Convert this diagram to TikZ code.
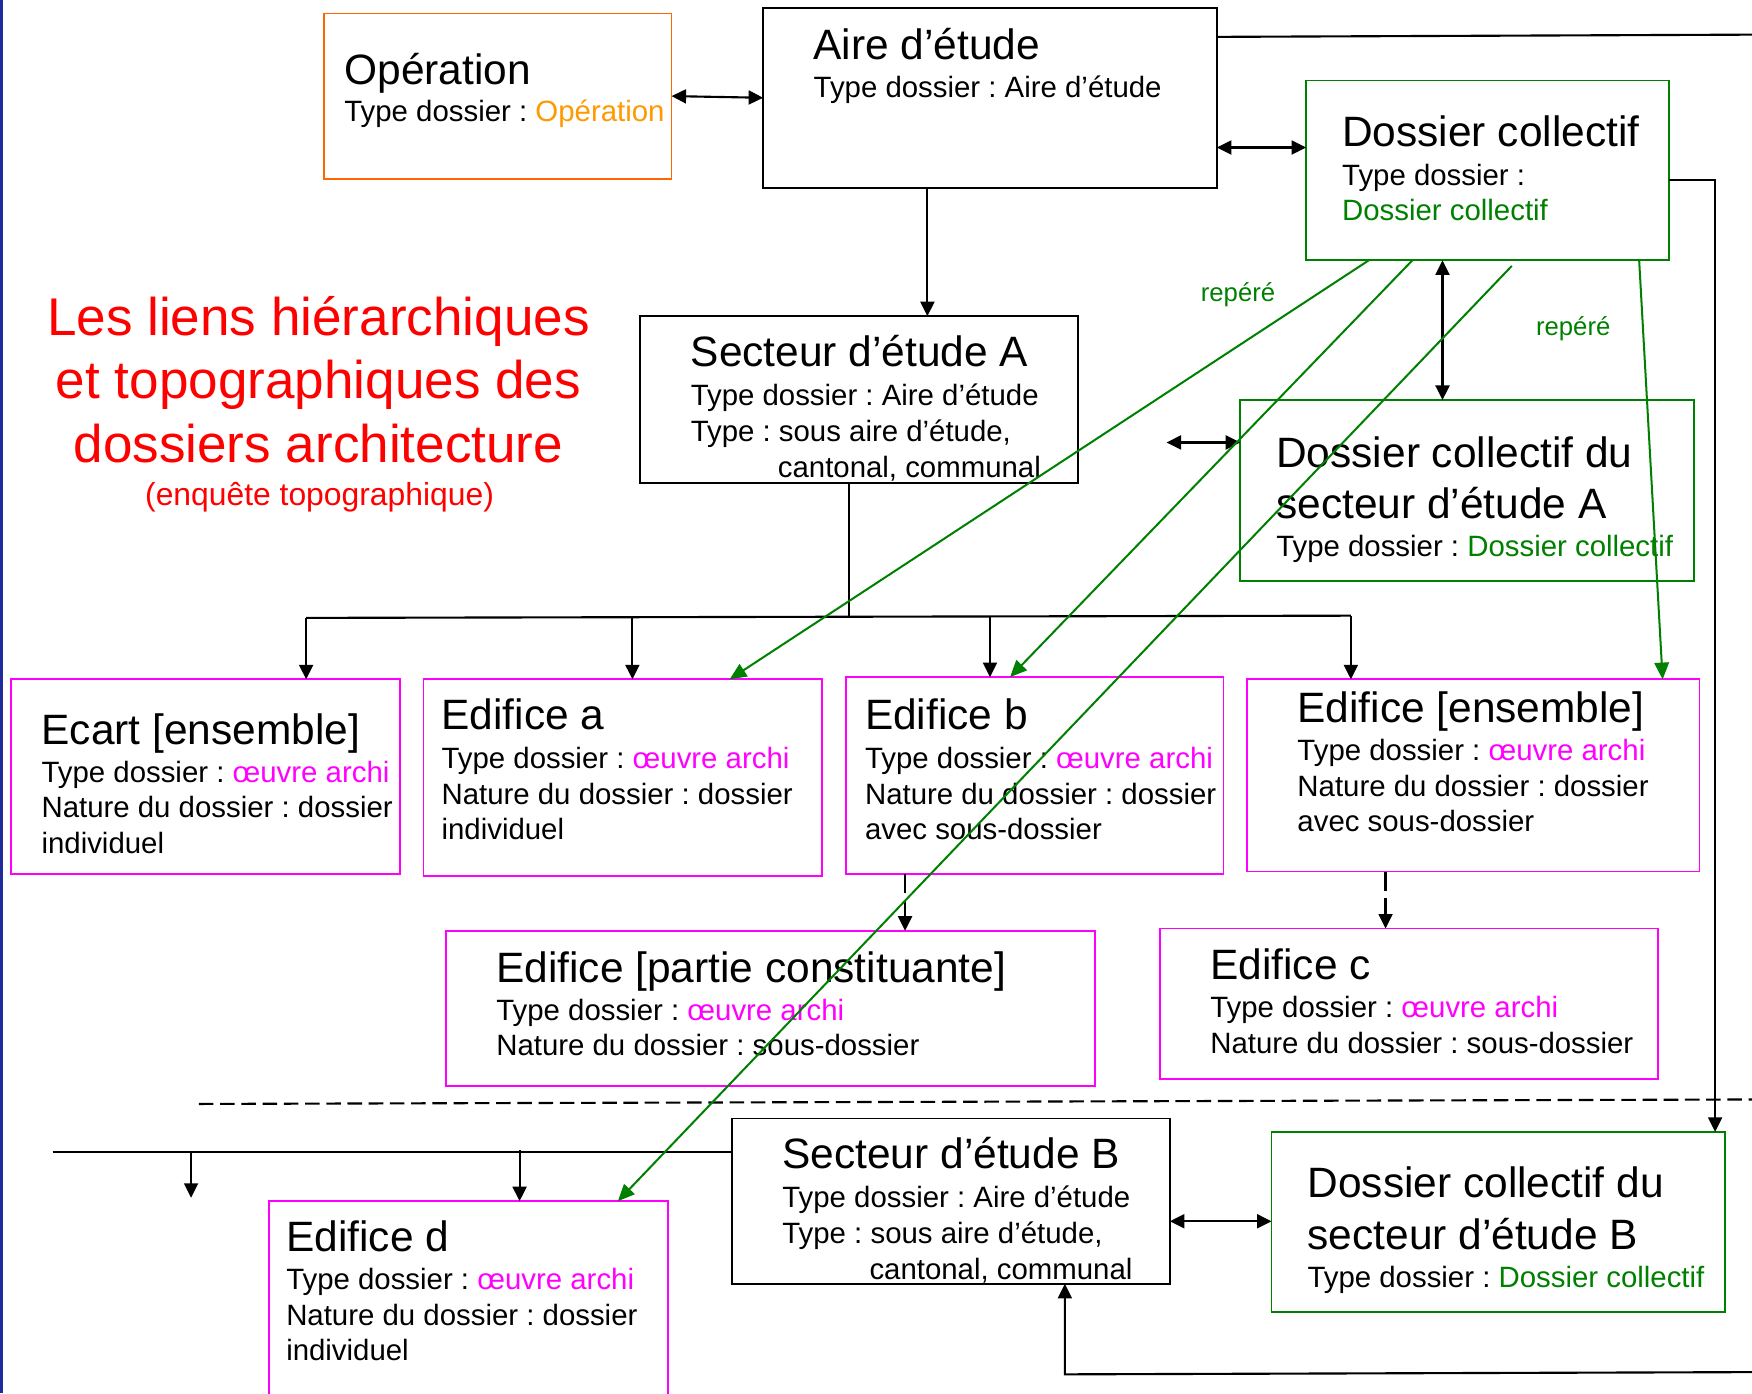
\documentclass[tikz,border=0pt]{standalone}
\usepackage{fontspec}
\setmainfont{Liberation Sans}
\usetikzlibrary{arrows.meta,calc}
\definecolor{orb}{HTML}{FF6600}
\definecolor{ort}{HTML}{FF9900}
\definecolor{grn}{HTML}{008000}
\definecolor{mag}{HTML}{FF00FF}
\definecolor{ttl}{HTML}{FF0000}
\definecolor{edgeblue}{HTML}{1F2A9C}
\frenchspacing
\begin{document}
\begin{tikzpicture}[x=1pt,y=1pt,
  bx/.style={draw, line width=1.6pt, inner sep=0pt, outer sep=0pt, anchor=north west},
  kbox/.style={bx, draw=black},
  obox/.style={bx, draw=orb},
  gbox/.style={bx, draw=grn},
  mbox/.style={bx, draw=mag},
  big/.style={font=\fontsize{38}{44}\selectfont, inner sep=0pt, anchor=base west},
  sm/.style={font=\fontsize{26.3}{32}\selectfont, inner sep=0pt, anchor=base west},
  ttlA/.style={font=\fontsize{47.5}{57}\selectfont, text=ttl, inner sep=0pt, anchor=base},
  ttlB/.style={font=\fontsize{28.5}{34}\selectfont, text=ttl, inner sep=0pt, anchor=base},
  rep/.style={font=\fontsize{23}{28}\selectfont, text=grn, inner sep=0pt, anchor=base},
  ln/.style={line width=1.9pt},
  tip/.tip={Triangle[length=13pt,width=12.5pt]},
  arr/.style={ln, -tip},
  dbl/.style={ln, tip-tip},
  garr/.style={draw=grn, line width=1.8pt, -{Triangle[length=15pt,width=13pt]}},
  dsh/.style={dash pattern=on 17pt off 7pt},
]
\useasboundingbox (0,0) rectangle (1568,-1247);
\fill[edgeblue] (0,0) rectangle (3,-1247);

% ---------- boxes ----------
\node[obox, minimum width=311pt, minimum height=148pt] (op) at (290,-12) {};
\node[kbox, minimum width=406pt, minimum height=161pt] (aire) at (683,-7) {};
\node[gbox, minimum width=325pt, minimum height=161pt] (dc) at (1169,-72) {};
\node[kbox, minimum width=392pt, minimum height=149pt] (secA) at (573,-283) {};
\node[gbox, minimum width=406pt, minimum height=162pt] (dcA) at (1110,-358) {};
\node[mbox, minimum width=348pt, minimum height=174pt] (ecart) at (10,-608) {};
\node[mbox, minimum width=357pt, minimum height=176pt] (edA) at (379,-608) {};
\node[mbox, minimum width=338pt, minimum height=176pt] (edB) at (757,-606) {};
\node[mbox, minimum width=405pt, minimum height=172pt] (edE) at (1116,-608) {};
\node[mbox, minimum width=581pt, minimum height=139pt] (part) at (399,-833) {};
\node[mbox, minimum width=446pt, minimum height=135pt] (edC) at (1038,-831) {};
\node[kbox, minimum width=392pt, minimum height=148pt] (secB) at (655,-1001) {};
\node[gbox, minimum width=406pt, minimum height=161pt] (dcB) at (1138,-1013) {};
\node[mbox, minimum width=357pt, minimum height=182pt] (edD) at (241,-1075) {};

% ---------- texts ----------
\node[big] (opT) at (308,-76) {Opération};
\node[sm] (opS) at (308,-109) {Type dossier : \textcolor{ort}{Opération}};

\node[big] (aireT) at (728,-53) {Aire d’étude};
\node[sm] (aireS) at (728,-87) {Type dossier : Aire d’étude};

\node[big] (dcT) at (1201,-131) {Dossier collectif};
\node[sm] (dcS1) at (1201,-166) {Type dossier :};
\node[sm, text=grn] (dcS2) at (1201,-197) {Dossier collectif};

\node[big] (secAT) at (618,-328) {Secteur d’étude A};
\node[sm] (secAS1) at (618,-363) {Type dossier : Aire d’étude};
\node[sm] (secAS2) at (618,-395) {Type : sous aire d’étude,};
\node[sm] (secAS3) at (696,-427) {cantonal, communal};

\node[big] (dcAT1) at (1142,-418) {Dossier collectif du};
\node[big] (dcAT2) at (1142,-464) {secteur d’étude A};
\node[sm] (dcAS) at (1142,-498) {Type dossier : \textcolor{grn}{Dossier collectif}};

\node[big] (ecT) at (37,-666) {Ecart [ensemble]};
\node[sm] (ecS1) at (37,-700) {Type dossier : \textcolor{mag}{œuvre archi}};
\node[sm] (ecS2) at (37,-732) {Nature du dossier : dossier};
\node[sm] (ecS3) at (37,-764) {individuel};

\node[big] (edAT) at (395,-653) {Edifice a};
\node[sm] (edAS1) at (395,-688) {Type dossier : \textcolor{mag}{œuvre archi}};
\node[sm] (edAS2) at (395,-720) {Nature du dossier : dossier};
\node[sm] (edAS3) at (395,-751) {individuel};

\node[big] (edBT) at (774,-653) {Edifice b};
\node[sm] (edBS1) at (774,-688) {Type dossier : \textcolor{mag}{œuvre archi}};
\node[sm] (edBS2) at (774,-720) {Nature du dossier : dossier};
\node[sm] (edBS3) at (774,-751) {avec sous-dossier};

\node[big] (edET) at (1161,-647) {Edifice [ensemble]};
\node[sm] (edES1) at (1161,-681) {Type dossier : \textcolor{mag}{œuvre archi}};
\node[sm] (edES2) at (1161,-713) {Nature du dossier : dossier};
\node[sm] (edES3) at (1161,-744) {avec sous-dossier};

\node[big] (partT) at (444,-879) {Edifice [partie constituante]};
\node[sm] (partS1) at (444,-913) {Type dossier : \textcolor{mag}{œuvre archi}};
\node[sm] (partS2) at (444,-945) {Nature du dossier : sous-dossier};

\node[big] (edCT) at (1083,-877) {Edifice c};
\node[sm] (edCS1) at (1083,-911) {Type dossier : \textcolor{mag}{œuvre archi}};
\node[sm] (edCS2) at (1083,-943) {Nature du dossier : sous-dossier};

\node[big] (secBT) at (700,-1046) {Secteur d’étude B};
\node[sm] (secBS1) at (700,-1081) {Type dossier : Aire d’étude};
\node[sm] (secBS2) at (700,-1113) {Type : sous aire d’étude,};
\node[sm] (secBS3) at (778,-1145) {cantonal, communal};

\node[big] (dcBT1) at (1170,-1072) {Dossier collectif du};
\node[big] (dcBT2) at (1170,-1118) {secteur d’étude B};
\node[sm] (dcBS) at (1170,-1152) {Type dossier : \textcolor{grn}{Dossier collectif}};

\node[big] (edDT) at (256,-1120) {Edifice d};
\node[sm] (edDS1) at (256,-1154) {Type dossier : \textcolor{mag}{œuvre archi}};
\node[sm] (edDS2) at (256,-1186) {Nature du dossier : dossier};
\node[sm] (edDS3) at (256,-1218) {individuel};

\node[ttlA] (t1) at (285,-300) {Les liens hiérarchiques};
\node[ttlA] (t2) at (285,-357) {et topographiques des};
\node[ttlA] (t3) at (285,-414) {dossiers architecture};
\node[ttlB] (t4) at (286,-452) {(enquête topographique)};

\node[rep] (rep1) at (1108,-270) {repéré};
\node[rep] (rep2) at (1408,-300) {repéré};

% ---------- connectors ----------
\draw[dbl] (op.east) -- (aire.west);
\coordinate (hAD) at (0,-132);
\draw[dbl] (aire.east |- hAD) -- (dc.west |- hAD);
\coordinate (xAS) at (830,0);
\draw[arr] (aire.south -| xAS) -- (secA.north -| xAS);

\coordinate (offR1) at (1568,-31);
\coordinate (hTop) at (0,-33);
\draw[ln] (aire.east |- hTop) -- (offR1);

\coordinate (cR) at (1535,-161);
\draw[arr] (dc.east |- cR) -- (cR) -- (cR |- dcB.north);

\coordinate (xV) at (1291,0);
\draw[dbl] (dc.south -| xV) -- (dcA.north -| xV);

\coordinate (fe1) at (1044,-396);
\draw[dbl] (fe1) -- (fe1 -| dcA.west);

% bus of sector A
\coordinate (xBus) at (760,0);
\coordinate (b1) at (274,-553);
\coordinate (b4) at (1209,-551);
\draw[ln] (secA.south -| xBus) -- (xBus |- b1);
\draw[ln] (b1) -- (b4);
\draw[arr] (b1) -- (b1 |- ecart.north);
\coordinate (b2) at (566,-552);
\draw[arr] (b2) -- (b2 |- edA.north);
\coordinate (b3) at (886,-552);
\draw[arr] (b3) -- (b3 |- edB.north);
\draw[arr] (b4) -- (b4 |- edE.north);

% dashed sub-file arrows
\coordinate (xd1) at (810,0);
\draw[arr, dsh] (edB.south -| xd1) -- (part.north -| xd1);
\coordinate (xd2) at (1240,0);
\draw[arr, dsh] (edE.south -| xd2) -- (edC.north -| xd2);

% dashed separator
\coordinate (sepL) at (178,-988);
\coordinate (sepR) at (1568,-984);
\draw[ln, dash pattern=on 13pt off 6pt] (sepL) -- (sepR);

% bus of sector B
\coordinate (bl) at (47,-1031);
\draw[ln] (bl) -- (bl -| secB.west);
\coordinate (fe2) at (171,-1072);
\draw[arr] (fe2 |- bl) -- (fe2);
\coordinate (xD) at (465,-1029);
\draw[arr] (xD) -- (xD |- edD.north);

\coordinate (hB) at (0,-1093);
\draw[dbl] (secB.east |- hB) -- (dcB.west |- hB);

\coordinate (offR2) at (1568,-1228);
\coordinate (lb) at (953,-1230);
\draw[arr] (offR2) -- (lb) -- (lb |- secB.south);

% green "repere" links
\coordinate (g1s) at (1225,0); \coordinate (g1e) at (653,0);
\coordinate (g2s) at (1264,0); \coordinate (g2e) at (904,0);
\coordinate (g3s) at (1353,-238); \coordinate (g3e) at (553,0);
\coordinate (g4s) at (1467,0); \coordinate (g4e) at (1488,0);
\draw[garr] (dc.south -| g1s) -- (edA.north -| g1e);
\draw[garr] (dc.south -| g2s) -- (edB.north -| g2e);
\draw[garr] (g3s) -- (edD.north -| g3e);
\draw[garr] (dc.south -| g4s) -- (edE.north -| g4e);
\end{tikzpicture}
\end{document}
